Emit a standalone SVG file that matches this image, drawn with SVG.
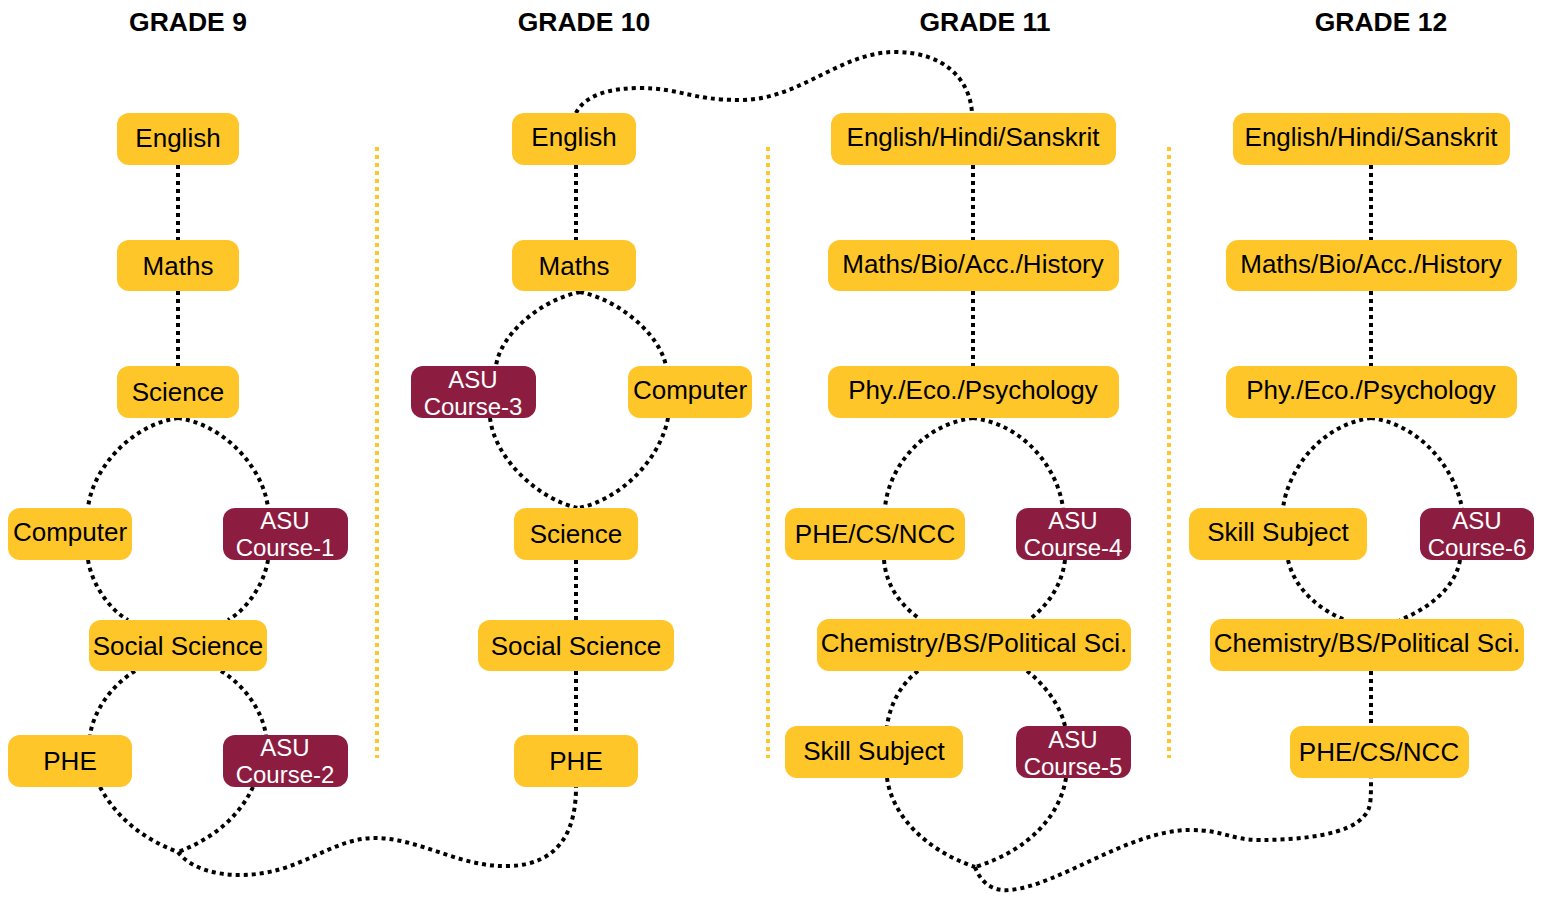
<svg xmlns="http://www.w3.org/2000/svg" width="1543" height="900" viewBox="0 0 1543 900">
<style>
.bg{fill:#ffffff}
.hdr{font-family:"Liberation Sans",Arial,sans-serif;font-weight:bold;font-size:26.5px;fill:#000;text-anchor:middle}
.y rect{fill:#FFC629}
.m rect{fill:#8C1D40}
.y text{font-family:"Liberation Sans",Arial,sans-serif;font-size:26px;fill:#000;text-anchor:middle}
.m text{font-family:"Liberation Sans",Arial,sans-serif;font-size:24px;fill:#fff;text-anchor:middle}
.c path{fill:none;stroke:#000;stroke-width:4;stroke-dasharray:4 4}
.sep line{stroke:#FFC629;stroke-width:4;stroke-dasharray:4 4}
</style>
<rect class="bg" x="0" y="0" width="1543" height="900"/>
<g id="headers">
<text class="hdr" x="188" y="31">GRADE 9</text>
<text class="hdr" x="584" y="31">GRADE 10</text>
<text class="hdr" x="985" y="31">GRADE 11</text>
<text class="hdr" x="1381" y="31">GRADE 12</text>
</g>
<g id="separators" class="sep">
<line x1="377" y1="147" x2="377" y2="758"/>
<line x1="768" y1="147" x2="768" y2="758"/>
<line x1="1169" y1="147" x2="1169" y2="758"/>
</g>
<g id="connectors" class="c">
<!-- grade 9 -->
<path d="M178,165 L178,240"/>
<path d="M178,291 L178,366"/>
<path d="M178,418 C130,425 92,470 88,508"/>
<path d="M178,418 C226,425 264,470 268,508"/>
<path d="M88,560 C92,585 110,610 128,620"/>
<path d="M268,560 C264,585 246,610 228,620"/>
<path d="M135,671 C112,685 94,710 90,735"/>
<path d="M221,671 C244,685 262,710 266,735"/>
<path d="M100,787 C115,815 140,838 178,852"/>
<path d="M253,787 C240,815 215,838 178,852"/>
<path d="M178,852 C190,868 215,875 240,875 C300,875 330,838 375,838 C420,838 460,868 510,866 C560,864 576,830 576,787"/>
<!-- grade 10 -->
<path d="M576,113 C585,95 610,88 640,88 C680,88 690,100 740,100 C800,100 840,52 895,52 C945,52 970,80 972,113"/>
<path d="M576,165 L576,240"/>
<path d="M580,292 C540,300 500,335 496,366"/>
<path d="M580,292 C620,300 660,335 666,366"/>
<path d="M490,418 C495,460 540,500 578,508"/>
<path d="M668,418 C660,460 620,500 578,508"/>
<path d="M576,560 L576,620"/>
<path d="M576,671 L576,735"/>
<!-- grade 11 -->
<path d="M973,165 L973,240"/>
<path d="M973,291 L973,366"/>
<path d="M973,418 C920,425 888,470 885,508"/>
<path d="M973,418 C1026,425 1058,470 1063,508"/>
<path d="M884,560 C886,585 900,605 920,619"/>
<path d="M1065,560 C1062,585 1048,605 1030,619"/>
<path d="M918,671 C900,685 890,705 887,726"/>
<path d="M1027,671 C1045,685 1060,705 1065,726"/>
<path d="M887,778 C892,815 925,850 975,867"/>
<path d="M1066,778 C1060,815 1030,850 975,867"/>
<path d="M975,867 C980,880 990,892 1010,890 C1060,885 1130,830 1190,830 C1225,830 1230,840 1260,840 C1300,840 1350,835 1365,815 C1371,808 1371,800 1371,778"/>
<!-- grade 12 -->
<path d="M1371,165 L1371,240"/>
<path d="M1371,291 L1371,366"/>
<path d="M1371,418 C1320,425 1288,470 1283,508"/>
<path d="M1371,418 C1422,425 1455,470 1462,508"/>
<path d="M1288,560 C1295,590 1320,610 1345,620"/>
<path d="M1460,560 C1455,590 1425,610 1400,620"/>
<path d="M1371,671 L1371,726"/>
</g>
<!-- grade 9 nodes -->
<g id="g9-english" class="y"><rect x="117" y="113" width="122" height="52" rx="12"/><text x="178" y="147">English</text></g>
<g id="g9-maths" class="y"><rect x="117" y="240" width="122" height="51" rx="12"/><text x="178" y="275">Maths</text></g>
<g id="g9-science" class="y"><rect x="117" y="366" width="122" height="52" rx="12"/><text x="178" y="401">Science</text></g>
<g id="g9-computer" class="y"><rect x="8" y="508" width="124" height="52" rx="12"/><text x="70" y="541">Computer</text></g>
<g id="g9-asu1" class="m"><rect x="223" y="508" width="125" height="52" rx="12"/><text x="285" y="529">ASU</text><text x="285" y="556">Course-1</text></g>
<g id="g9-social" class="y"><rect x="89" y="620" width="178" height="51" rx="12"/><text x="178" y="655">Social Science</text></g>
<g id="g9-phe" class="y"><rect x="8" y="735" width="124" height="52" rx="12"/><text x="70" y="770">PHE</text></g>
<g id="g9-asu2" class="m"><rect x="223" y="735" width="125" height="52" rx="12"/><text x="285" y="756">ASU</text><text x="285" y="783">Course-2</text></g>
<!-- grade 10 nodes -->
<g id="g10-english" class="y"><rect x="512" y="113" width="124" height="52" rx="12"/><text x="574" y="146">English</text></g>
<g id="g10-maths" class="y"><rect x="512" y="240" width="124" height="51" rx="12"/><text x="574" y="275">Maths</text></g>
<g id="g10-asu3" class="m"><rect x="411" y="366" width="125" height="52" rx="12"/><text x="473" y="388">ASU</text><text x="473" y="415">Course-3</text></g>
<g id="g10-computer" class="y"><rect x="628" y="366" width="124" height="52" rx="12"/><text x="690" y="399">Computer</text></g>
<g id="g10-science" class="y"><rect x="514" y="508" width="124" height="52" rx="12"/><text x="576" y="543">Science</text></g>
<g id="g10-social" class="y"><rect x="478" y="620" width="196" height="51" rx="12"/><text x="576" y="655">Social Science</text></g>
<g id="g10-phe" class="y"><rect x="514" y="735" width="124" height="52" rx="12"/><text x="576" y="770">PHE</text></g>
<!-- grade 11 nodes -->
<g id="g11-lang" class="y"><rect x="831" y="113" width="285" height="52" rx="12"/><text x="973" y="146">English/Hindi/Sanskrit</text></g>
<g id="g11-maths" class="y"><rect x="828" y="240" width="291" height="51" rx="12"/><text x="973" y="273">Maths/Bio/Acc./History</text></g>
<g id="g11-phy" class="y"><rect x="828" y="366" width="291" height="52" rx="12"/><text x="973" y="399">Phy./Eco./Psychology</text></g>
<g id="g11-phe" class="y"><rect x="785" y="508" width="180" height="52" rx="12"/><text x="875" y="543">PHE/CS/NCC</text></g>
<g id="g11-asu4" class="m"><rect x="1016" y="508" width="115" height="52" rx="12"/><text x="1073" y="529">ASU</text><text x="1073" y="556">Course-4</text></g>
<g id="g11-chem" class="y"><rect x="817" y="619" width="314" height="52" rx="12"/><text x="974" y="652">Chemistry/BS/Political Sci.</text></g>
<g id="g11-skill" class="y"><rect x="785" y="726" width="178" height="52" rx="12"/><text x="874" y="760">Skill Subject</text></g>
<g id="g11-asu5" class="m"><rect x="1016" y="726" width="115" height="52" rx="12"/><text x="1073" y="748">ASU</text><text x="1073" y="775">Course-5</text></g>
<!-- grade 12 nodes -->
<g id="g12-lang" class="y"><rect x="1233" y="113" width="277" height="52" rx="12"/><text x="1371" y="146">English/Hindi/Sanskrit</text></g>
<g id="g12-maths" class="y"><rect x="1226" y="240" width="291" height="51" rx="12"/><text x="1371" y="273">Maths/Bio/Acc./History</text></g>
<g id="g12-phy" class="y"><rect x="1226" y="366" width="291" height="52" rx="12"/><text x="1371" y="399">Phy./Eco./Psychology</text></g>
<g id="g12-skill" class="y"><rect x="1189" y="508" width="178" height="52" rx="12"/><text x="1278" y="541">Skill Subject</text></g>
<g id="g12-asu6" class="m"><rect x="1420" y="508" width="114" height="52" rx="12"/><text x="1477" y="529">ASU</text><text x="1477" y="556">Course-6</text></g>
<g id="g12-chem" class="y"><rect x="1210" y="619" width="314" height="52" rx="12"/><text x="1367" y="652">Chemistry/BS/Political Sci.</text></g>
<g id="g12-phe" class="y"><rect x="1290" y="726" width="179" height="52" rx="12"/><text x="1379" y="761">PHE/CS/NCC</text></g>
</svg>
